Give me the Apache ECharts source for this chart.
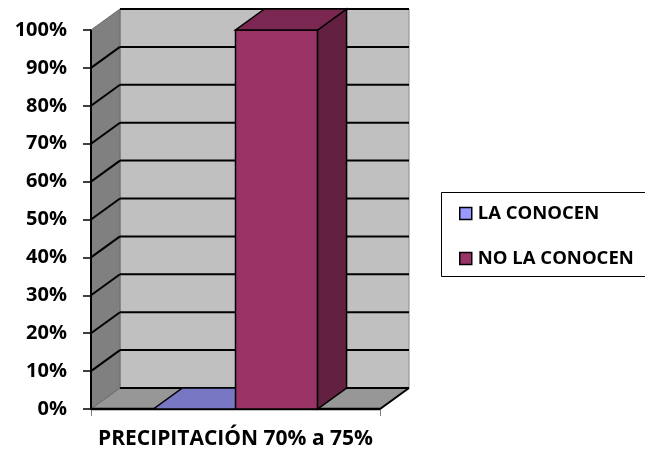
<!DOCTYPE html>
<html>
<head>
<meta charset="utf-8">
<script src="https://cdn.jsdelivr.net/npm/echarts@6/dist/echarts.min.js"></script>
<style>
  html, body { margin: 0; padding: 0; background: #fff; }
  #chart { width: 645px; height: 453px; }
</style>
</head>
<body>
<div id="chart"></div>
<script>
// Survey answers for one precipitation range (share of respondents)
const categories = ['PRECIPITACIÓN 70% a 75%'];
const seriesNames = ['LA CONOCEN', 'NO LA CONOCEN'];
const laConocen = [0];
const noLaConocen = [1];
// Value-axis steps (also used for the gridlines painted on the walls)
const tickValues = [0, 0.1, 0.2, 0.3, 0.4, 0.5, 0.6, 0.7, 0.8, 0.9, 1];

// Depth of the pseudo-3D box, in pixels
const DX = 29;
const DY = -21;
const BAR_FRAC = 0.284;
const FONT = '"Open Sans", "DejaVu Sans", sans-serif';

const chart = echarts.init(document.getElementById('chart'), null, { renderer: 'canvas' });

function line(x1, y1, x2, y2, stroke, w) {
  return { type: 'line', shape: { x1, y1, x2, y2 }, style: { stroke, lineWidth: w } };
}
function poly(points, fill, stroke, w) {
  return { type: 'polygon', shape: { points }, style: { fill, stroke: stroke || null, lineWidth: w || 0 } };
}

// Back wall, side wall and floor of the box, with the value gridlines
function renderWalls(params, api) {
  const base = api.coord([0, 0]);
  const top = api.coord([0, 1]);
  const bw = api.size([1, 0])[0];
  const x0 = base[0] - bw / 2;
  const x1 = base[0] + bw / 2;
  const yb = base[1];
  const yt = top[1];
  const c = [];
  c.push(poly([[x0 + DX, yt + DY], [x1 + DX, yt + DY], [x1 + DX, yb + DY], [x0 + DX, yb + DY]], '#C0C0C0', '#8a8a8a', 1));
  c.push(poly([[x0, yt], [x0 + DX, yt + DY], [x0 + DX, yb + DY], [x0, yb]], '#808080', '#6a6a6a', 1));
  c.push(poly([[x0, yb], [x1, yb], [x1 + DX, yb + DY], [x0 + DX, yb + DY]], '#979797', '#6a6a6a', 1));
  tickValues.forEach(function (v) {
    if (v <= 0 || v >= 1) return;
    const y = api.coord([0, v])[1];
    c.push(line(x0 + DX, y + DY, x1 + DX, y + DY, '#000', 2));
    c.push(line(x0, y, x0 + DX, y + DY, '#000', 2));
  });
  c.push(line(x0 + DX, yt + DY, x1 + DX, yt + DY, '#000', 2));
  c.push(line(x0 + DX, yb + DY, x1 + DX, yb + DY, '#000', 2));
  c.push(line(x1, yb, x1 + DX, yb + DY, '#000', 2));
  c.push(line(x0, yb, x1, yb, '#000', 2.5));
  c.push(line(x0, yt, x0, yb, '#000', 2));
  return { type: 'group', children: c };
}

// One pseudo-3D column: front, right side and top faces
function barRenderer(slot, front, side, topFill) {
  return function (params, api) {
    const cat = api.value(0);
    const val = api.value(1);
    const base = api.coord([cat, 0]);
    const top = api.coord([cat, val]);
    const w = api.size([1, 0])[0] * BAR_FRAC;
    const xl = base[0] + slot * w;
    const xr = xl + w;
    const yb = base[1];
    const yt = top[1];
    const c = [];
    if (yb - yt > 0.5) {
      c.push(poly([[xl, yt], [xr, yt], [xr, yb], [xl, yb]], front, '#000', 1.5));
      c.push(poly([[xr, yt], [xr + DX, yt + DY], [xr + DX, yb + DY], [xr, yb]], side, '#000', 1.5));
    }
    c.push(poly([[xl, yt], [xr, yt], [xr + DX, yt + DY], [xl + DX, yt + DY]], topFill, '#000', 1.5));
    return { type: 'group', children: c };
  };
}

chart.setOption({
  backgroundColor: '#ffffff',
  animation: false,
  grid: { left: 91, right: 265, top: 30, bottom: 44 },
  // Legend frame runs past the right edge of the canvas
  graphic: [{
    type: 'rect',
    silent: true,
    shape: { x: 441.5, y: 192.5, width: 260, height: 84 },
    style: { fill: null, stroke: '#000', lineWidth: 1 }
  }],
  legend: {
    orient: 'vertical',
    left: 441,
    top: 192,
    padding: [12, 10, 11, 18],
    itemGap: 26,
    itemWidth: 12,
    itemHeight: 12,
    icon: 'rect',
    borderWidth: 0,
    itemStyle: { borderColor: '#000', borderWidth: 1.5 },
    textStyle: { fontFamily: FONT, fontWeight: 'bold', fontSize: 18.5, color: '#000', padding: [0, 0, 0, 1] },
    data: seriesNames
  },
  xAxis: {
    type: 'category',
    data: categories,
    axisLine: { show: true, lineStyle: { color: '#000', width: 2 } },
    axisTick: { show: true, length: 7, lineStyle: { color: '#808080', width: 1 } },
    axisLabel: { margin: 20, fontFamily: FONT, fontWeight: 'bold', fontSize: 21, color: '#000' },
    splitLine: { show: false }
  },
  yAxis: {
    type: 'value',
    min: 0,
    max: 1,
    interval: 0.1,
    axisLine: { show: true, lineStyle: { color: '#000', width: 2 } },
    axisTick: { show: true, length: 8, lineStyle: { color: '#000', width: 1.5 } },
    axisLabel: {
      margin: 24,
      fontFamily: FONT,
      fontWeight: 'bold',
      fontSize: 20,
      color: '#000',
      formatter: function (v) { return Math.round(v * 100) + '%'; }
    },
    splitLine: { show: false }
  },
  series: [
    {
      type: 'custom',
      name: 'walls',
      silent: true,
      z: 1,
      renderItem: renderWalls,
      data: [[0, 0]]
    },
    {
      type: 'custom',
      name: seriesNames[0],
      z: 3,
      itemStyle: { color: '#9999FF' },
      renderItem: barRenderer(-1, '#9999FF', '#5C5C99', '#7777C4'),
      encode: { x: 0, y: 1 },
      data: laConocen.map(function (v, i) { return [i, v]; })
    },
    {
      type: 'custom',
      name: seriesNames[1],
      z: 4,
      itemStyle: { color: '#993366' },
      renderItem: barRenderer(0, '#993366', '#632040', '#7A2852'),
      encode: { x: 0, y: 1 },
      data: noLaConocen.map(function (v, i) { return [i, v]; })
    }
  ]
});
</script>
</body>
</html>
